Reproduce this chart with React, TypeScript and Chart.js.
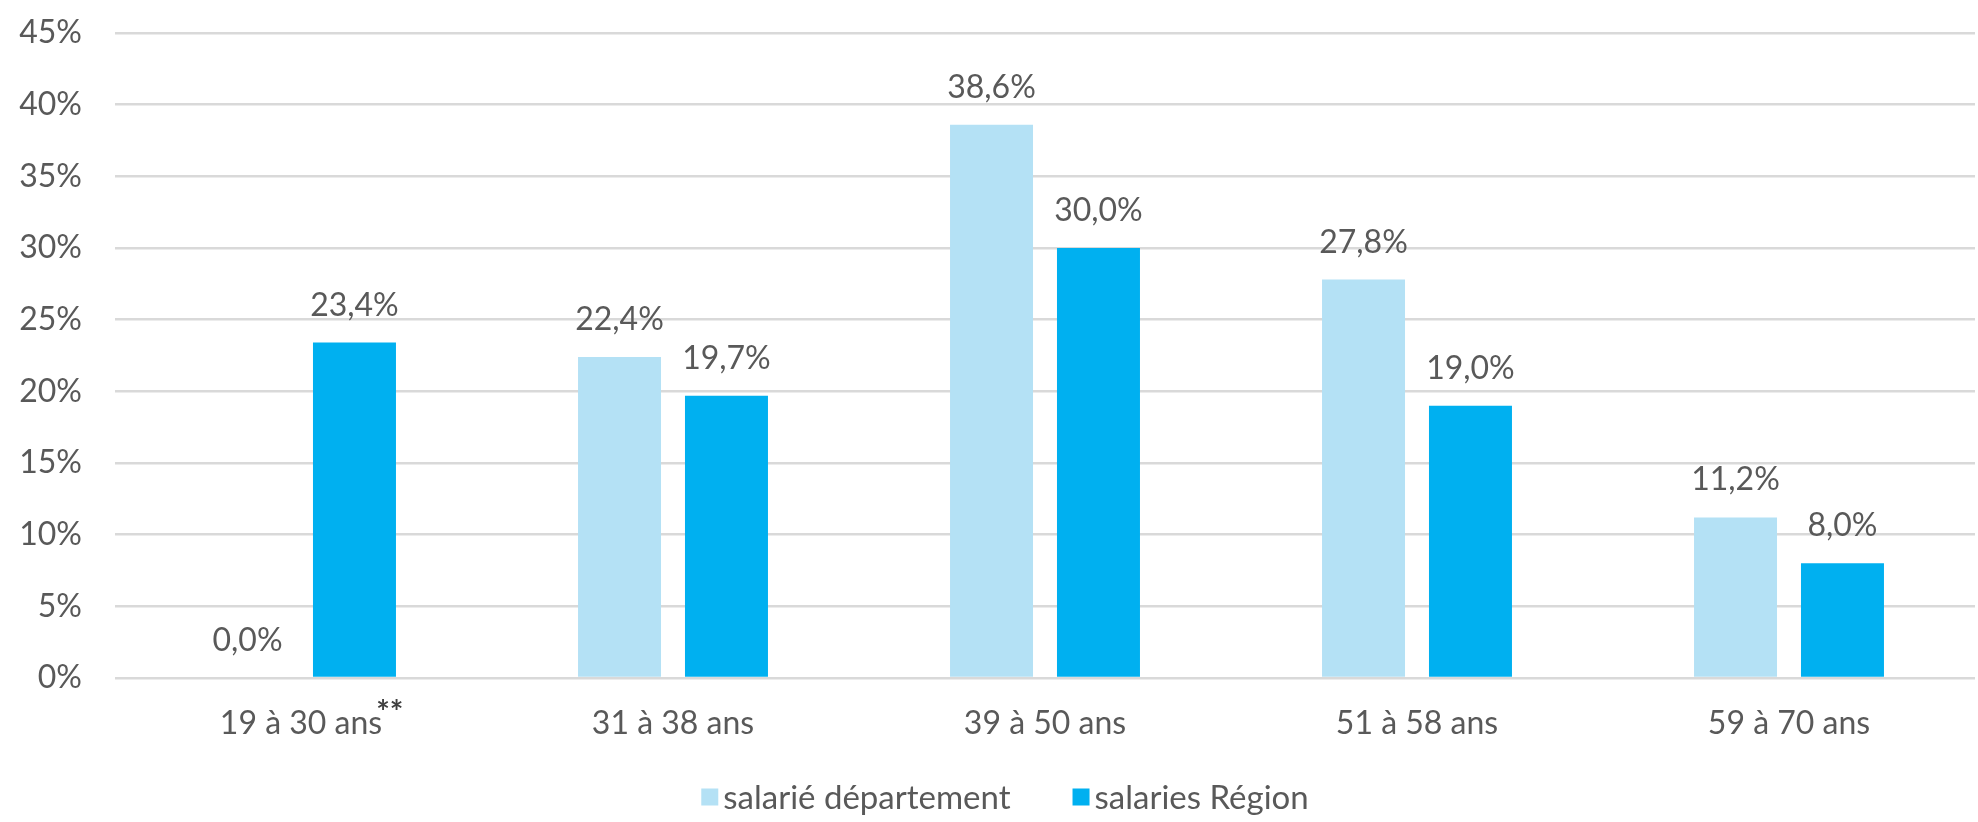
import React, { useEffect, useRef } from "react";
import { Chart, registerables } from "chart.js";

Chart.register(...registerables);

const categories = ["19 à 30 ans", "31 à 38 ans", "39 à 50 ans", "51 à 58 ans", "59 à 70 ans"];
const departement = [0.0, 22.4, 38.6, 27.8, 11.2];
const region = [23.4, 19.7, 30.0, 19.0, 8.0];
const seriesNames = ["salarié département", "salaries Région"];
const seriesColors = ["#B4E1F5", "#00B0F0"];
const yMin = 0;
const yMax = 45;
const yStep = 5;
const footnoteMark = "**";
const footnoteCategoryIndex = 0;

const FONT = "Lato";
const TEXT = "#595959";

const fmt = (v: number) => v.toFixed(1).replace(".", ",") + "%";

const dataLabelPlugin = {
  id: "dataLabels",
  afterDatasetsDraw(chart: any) {
    const ctx = chart.ctx;
    ctx.save();
    ctx.font = `32px ${FONT}`;
    ctx.fillStyle = TEXT;
    ctx.textAlign = "center";
    ctx.textBaseline = "alphabetic";
    chart.data.datasets.forEach((ds: any, di: number) => {
      const meta = chart.getDatasetMeta(di);
      meta.data.forEach((bar: any, i: number) => {
        ctx.fillText(fmt(ds.data[i]), bar.x, bar.y - 27);
      });
    });
    ctx.restore();
  },
};

const footnotePlugin = {
  id: "footnote",
  afterDraw(chart: any) {
    const ctx = chart.ctx;
    const xs = chart.scales.x;
    ctx.save();
    ctx.font = `32px ${FONT}`;
    const w = ctx.measureText(categories[footnoteCategoryIndex]).width;
    const cx = xs.getPixelForValue(footnoteCategoryIndex);
    ctx.font = `bold 32px ${FONT}`;
    ctx.fillStyle = "#404040";
    ctx.textAlign = "left";
    ctx.textBaseline = "middle";
    ctx.fillText(footnoteMark, cx + w / 2 - 6, chart.chartArea.bottom + 36);
    ctx.restore();
  },
};

const legendPlugin = {
  id: "customLegend",
  afterDraw(chart: any) {
    const ctx = chart.ctx;
    ctx.save();
    ctx.font = `33px ${FONT}`;
    const box = 17;
    const gapText = 5;
    const gapItem = 62;
    const names = chart.data.datasets.map((d: any) => d.label);
    const widths = names.map((n: string) => ctx.measureText(n).width);
    let total = 0;
    widths.forEach((w: number, i: number) => {
      total += box + gapText + w + (i < widths.length - 1 ? gapItem : 0);
    });
    let x = chart.width / 2 - total / 2 + 16;
    const y = 797;
    ctx.textBaseline = "middle";
    ctx.textAlign = "left";
    chart.data.datasets.forEach((d: any, i: number) => {
      ctx.fillStyle = d.backgroundColor;
      ctx.fillRect(x, y - box / 2, box, box);
      ctx.fillStyle = TEXT;
      ctx.fillText(names[i], x + box + gapText, y + 1);
      x += box + gapText + widths[i] + gapItem;
    });
    ctx.restore();
  },
};

export default function App() {
  const ref = useRef<HTMLCanvasElement | null>(null);
  useEffect(() => {
    document.body.style.margin = "0";
    const chart = new Chart(ref.current as HTMLCanvasElement, {
      type: "bar",
      data: {
        labels: categories,
        datasets: [
          { label: seriesNames[0], data: departement, backgroundColor: seriesColors[0], borderWidth: 0 },
          { label: seriesNames[1], data: region, backgroundColor: seriesColors[1], borderWidth: 0 },
        ],
      },
      options: {
        responsive: false,
        animation: false,
        devicePixelRatio: 1,
        layout: { padding: { top: 33, right: 3, left: 0, bottom: 0 } },
        datasets: { bar: { categoryPercentage: 0.575, barPercentage: 0.776 } } as any,
        plugins: { legend: { display: false }, tooltip: { enabled: false } },
        scales: {
          x: {
            grid: { display: false, drawTicks: false },
            border: { display: false },
            ticks: { color: TEXT, font: { family: FONT, size: 32 }, padding: 26 },
            afterFit: (s: any) => { s.height = 144; },
          },
          y: {
            min: yMin,
            max: yMax,
            grid: { color: "#D9D9D9", lineWidth: 2.5, drawTicks: false },
            border: { display: false },
            ticks: {
              stepSize: yStep,
              color: TEXT,
              font: { family: FONT, size: 32 },
              padding: 33,
              callback: (v: any) => v + "%",
            },
            afterFit: (s: any) => {
              s.width = 115;
              s.paddingTop = 0;
              s.paddingBottom = 0;
            },
          },
        },
      },
      plugins: [dataLabelPlugin, footnotePlugin, legendPlugin],
    });
    return () => chart.destroy();
  }, []);
  return (
    <div style={{ position: "fixed", left: 0, top: 0, width: 1978, height: 822, background: "#fff" }}>
      <canvas ref={ref} width={1978} height={822} style={{ display: "block" }} />
    </div>
  );
}
